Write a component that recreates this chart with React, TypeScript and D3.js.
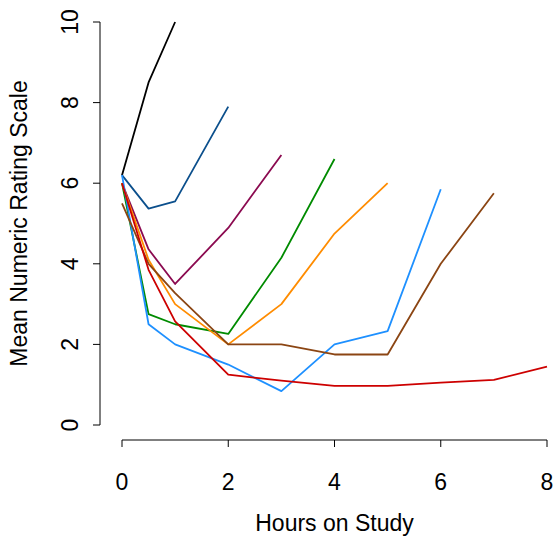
import { useEffect, useRef } from 'react';
import * as d3 from 'd3';

// hours at which each series was measured
const hoursBlack = [0, 0.5, 1];
const valuesBlack = [6.2, 8.5, 10];

const hoursNavy = [0, 0.5, 1, 2];
const valuesNavy = [6.2, 5.37, 5.55, 7.9];

const hoursMaroon = [0, 0.5, 1, 2, 3];
const valuesMaroon = [6.0, 4.36, 3.5, 4.89, 6.7];

const hoursGreen = [0, 0.5, 1, 2, 3, 4];
const valuesGreen = [6.0, 2.75, 2.5, 2.26, 4.15, 6.6];

const hoursOrange = [0, 0.5, 1, 2, 3, 4, 5];
const valuesOrange = [6.0, 4.1, 3.0, 2.0, 3.0, 4.75, 6.0];

const hoursSky = [0, 0.5, 1, 2, 3, 4, 5, 6];
const valuesSky = [6.2, 2.5, 2.0, 1.5, 0.84, 2.0, 2.33, 5.85];

const hoursBrown = [0, 0.5, 1, 2, 3, 4, 5, 6, 7];
const valuesBrown = [5.5, 4.0, 3.27, 2.0, 2.0, 1.75, 1.75, 4.0, 5.75];

const hoursRed = [0, 0.5, 1, 2, 3, 4, 5, 6, 7, 8];
const valuesRed = [6.0, 3.85, 2.57, 1.25, 1.1, 0.97, 0.97, 1.05, 1.12, 1.45];

const xTicks = [0, 2, 4, 6, 8];
const yTicks = [0, 2, 4, 6, 8, 10];

// drawn in this order, red ends on top
const series = [
  { name: 'black', hours: hoursBlack, values: valuesBlack, color: '#000000' },
  { name: 'navy', hours: hoursNavy, values: valuesNavy, color: '#0B4F8C' },
  { name: 'maroon', hours: hoursMaroon, values: valuesMaroon, color: '#8B0A50' },
  { name: 'green', hours: hoursGreen, values: valuesGreen, color: '#008B00' },
  { name: 'orange', hours: hoursOrange, values: valuesOrange, color: '#FF8C00' },
  { name: 'sky', hours: hoursSky, values: valuesSky, color: '#1E90FF' },
  { name: 'brown', hours: hoursBrown, values: valuesBrown, color: '#8B4513' },
  { name: 'red', hours: hoursRed, values: valuesRed, color: '#CD0000' },
];

function App() {
  const svgRef = useRef<SVGSVGElement>(null);

  useEffect(() => {
    const width = 558;
    const height = 542;
    const font = 'Liberation Sans, Arial, Helvetica, sans-serif';
    const fontSize = 23;

    const svg = d3.select(svgRef.current);
    svg.selectAll('*').remove();
    svg.attr('width', width).attr('height', height);

    const x = d3.scaleLinear().domain([0, 8]).range([122, 547]);
    const y = d3.scaleLinear().domain([0, 10]).range([425, 22]);

    // x axis, R style: offset below plot, no box
    const xAxis = svg.append('g').attr('transform', 'translate(0,440)');
    xAxis.append('line')
      .attr('x1', x(0)).attr('x2', x(8))
      .attr('stroke', '#000').attr('stroke-width', 1);
    xAxis.selectAll('line.tick')
      .data(xTicks)
      .join('line')
      .attr('class', 'tick')
      .attr('x1', d => x(d)).attr('x2', d => x(d))
      .attr('y1', 0).attr('y2', 7)
      .attr('stroke', '#000');
    xAxis.selectAll('text')
      .data(xTicks)
      .join('text')
      .attr('x', d => x(d))
      .attr('y', 50)
      .attr('text-anchor', 'middle')
      .attr('font-family', font)
      .attr('font-size', fontSize)
      .text(d => d);

    const yAxis = svg.append('g').attr('transform', 'translate(100,0)');
    yAxis.append('line')
      .attr('y1', y(0)).attr('y2', y(10))
      .attr('stroke', '#000').attr('stroke-width', 1);
    yAxis.selectAll('line.tick')
      .data(yTicks)
      .join('line')
      .attr('class', 'tick')
      .attr('y1', d => y(d)).attr('y2', d => y(d))
      .attr('x1', 0).attr('x2', -7)
      .attr('stroke', '#000');
    yAxis.selectAll('text')
      .data(yTicks)
      .join('text')
      .attr('transform', d => `translate(-22,${y(d)}) rotate(-90)`)
      .attr('text-anchor', 'middle')
      .attr('font-family', font)
      .attr('font-size', fontSize)
      .text(d => d);

    svg.append('text')
      .attr('x', (x(0) + x(8)) / 2)
      .attr('y', 531)
      .attr('text-anchor', 'middle')
      .attr('font-family', font)
      .attr('font-size', fontSize)
      .text('Hours on Study');

    svg.append('text')
      .attr('transform', `translate(27,${(y(0) + y(10)) / 2}) rotate(-90)`)
      .attr('text-anchor', 'middle')
      .attr('font-family', font)
      .attr('font-size', fontSize)
      .text('Mean Numeric Rating Scale');

    const line = d3.line<[number, number]>()
      .x(d => x(d[0]))
      .y(d => y(d[1]));

    svg.selectAll('path.series')
      .data(series)
      .join('path')
      .attr('class', 'series')
      .attr('d', s => line(s.hours.map((h, i) => [h, s.values[i]] as [number, number])))
      .attr('fill', 'none')
      .attr('stroke', s => s.color)
      .attr('stroke-width', 1.8)
      .attr('stroke-linejoin', 'round');
  }, []);

  return <svg ref={svgRef} style={{ position: 'absolute', left: 0, top: 0 }} />;
}

export default App;
